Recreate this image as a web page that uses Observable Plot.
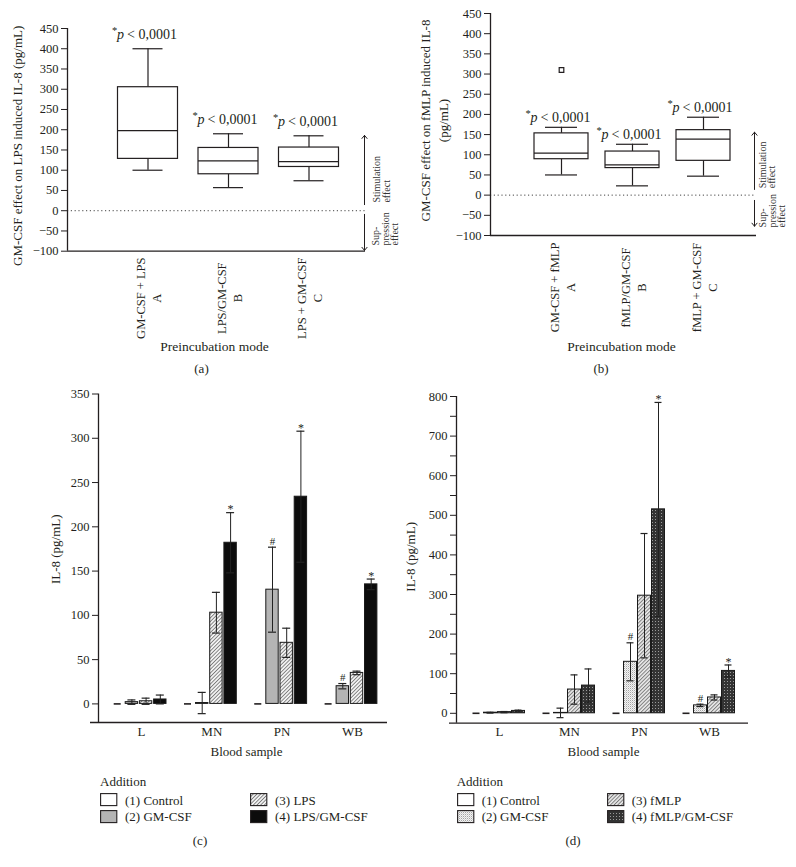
<!DOCTYPE html>
<html><head><meta charset="utf-8">
<script src="https://cdn.jsdelivr.net/npm/d3@7"></script>
<script src="https://cdn.jsdelivr.net/npm/@observablehq/plot@0.6"></script>
<style>
body{margin:0;background:#fff;}
#root{position:relative;width:796px;height:867px;overflow:hidden;background:#fff;font-family:"Liberation Serif","DejaVu Serif",serif;color:#231f20;}
.panel{position:absolute;}
.t{position:absolute;font-size:13px;line-height:13px;white-space:nowrap;}
</style></head><body>
<svg width="0" height="0" style="position:absolute">
<defs>
<pattern id="pHatchC" width="2.6" height="2.6" patternUnits="userSpaceOnUse" patternTransform="rotate(45)">
<rect width="2.6" height="2.6" fill="#f4f4f4"/><rect width="0.9" height="2.6" fill="#7a7a7a"/></pattern>
<pattern id="pDotsD" width="2" height="2" patternUnits="userSpaceOnUse">
<rect width="2" height="2" fill="#f3f3f3"/><rect width="1" height="1" fill="#a4a4a4"/><rect x="1" y="1" width="1" height="1" fill="#d4d4d4"/></pattern>
<pattern id="pHatchD" width="2.6" height="2.6" patternUnits="userSpaceOnUse" patternTransform="rotate(45)">
<rect width="2.6" height="2.6" fill="#ececec"/><rect width="1" height="2.6" fill="#7c7c7c"/></pattern>
<pattern id="pCrossD" width="3" height="3" patternUnits="userSpaceOnUse">
<rect width="3" height="3" fill="#333"/><rect width="1" height="1" fill="#9a9a9a"/></pattern>
</defs></svg>
<div id="root"></div>
<script>
const FONT = '"Liberation Serif","DejaVu Serif",serif';
const INK = "#231f20";

// ---------- Panel (a): box plots, LPS ----------
const catsA = ["GM-CSF + LPS\nA", "LPS/GM-CSF\nB", "LPS + GM-CSF\nC"];
const minA = [100, 57, 74];
const q1A  = [128, 90, 108];
const medA = [198, 123, 121];
const q3A  = [305, 155, 156];
const maxA = [400, 190, 185];
const outA = [];

// ---------- Panel (b): box plots, fMLP ----------
const catsB = ["GM-CSF + fMLP\nA", "fMLP/GM-CSF\nB", "fMLP + GM-CSF\nC"];
const minB = [50, 23, 47];
const q1B  = [89, 67, 85];
const medB = [104, 75, 139];
const q3B  = [153, 108, 161];
const maxB = [168, 126, 193];
const outB = [{box: 0, value: 310}];

const boxTicks = [-100, -50, 0, 50, 100, 150, 200, 250, 300, 350, 400, 450];
const pText = "< 0,0001";

// ---------- Panel (c): bars, LPS ----------
const groups = ["L", "MN", "PN", "WB"];
const seriesC = ["(1) Control", "(2) GM-CSF", "(3) LPS", "(4) LPS/GM-CSF"];
const cControl = [0, 0, 0, 0];
const cGM     = [2, 1, 129, 20];
const cGMsd   = [2.5, 12, 48, 3];
const cLPS    = [3, 103, 69, 35];
const cLPSsd  = [3.5, 23, 16.5, 2];
const cLPSGM  = [5, 182, 234, 135];
const cLPSGMsd = [5, 34, 74, 6];
const cMarks = [{g: 1, s: 3, sym: "*"}, {g: 2, s: 1, sym: "#"}, {g: 2, s: 3, sym: "*"}, {g: 3, s: 1, sym: "#"}, {g: 3, s: 3, sym: "*"}];
const cTicks = [0, 50, 100, 150, 200, 250, 300, 350];

// ---------- Panel (d): bars, fMLP ----------
const seriesD = ["(1) Control", "(2) GM-CSF", "(3) fMLP", "(4) fMLP/GM-CSF"];
const dControl = [0, 0, 0, 0];
const dGM      = [1.5, 1, 130, 20];
const dGMsd    = [1, 12, 48, 3];
const dFMLP    = [3, 60, 297, 40];
const dFMLPsd  = [1.5, 37, 157, 6.5];
const dFMLPGM  = [6, 70, 515, 107];
const dFMLPGMsd = [2, 42, 270, 15];
const dMarks = [{g: 2, s: 1, sym: "#"}, {g: 2, s: 3, sym: "*"}, {g: 3, s: 1, sym: "#"}, {g: 3, s: 3, sym: "*"}];
const dTicks = [0, 100, 200, 300, 400, 500, 600, 700, 800];
const dMinor = [50, 150, 250, 350, 450, 550, 650, 750];

const root = document.getElementById("root");
function place(node, left, top) {
  const d = document.createElement("div");
  d.className = "panel"; d.style.left = left + "px"; d.style.top = top + "px";
  d.appendChild(node); root.appendChild(d);
}
function txt(s, left, cy, opts = {}) {
  const d = document.createElement("div");
  d.className = "t"; d.textContent = s;
  d.style.top = (cy - 6.5) + "px";
  if (opts.center) { d.style.left = (left - 100) + "px"; d.style.width = "200px"; d.style.textAlign = "center"; }
  else d.style.left = left + "px";
  root.appendChild(d);
}

function boxPanel(c) {
  const rows = c.cats.map((cat, i) => ({pos: i + 1, cat, min: c.min[i], q1: c.q1[i], med: c.med[i], q3: c.q3[i], max: c.max[i]}));
  const hw = c.boxPx / 2 / c.unit, cw = c.capPx / 2 / c.unit;
  const xmax = (c.frameRight - c.frameLeft) / c.unit;
  const ax = (c.arrowX - c.frameLeft) / c.unit;
  const sw = 1.2;
  return Plot.plot({
    width: c.width, height: c.height,
    marginLeft: c.frameLeft, marginRight: c.width - c.frameRight,
    marginTop: c.frameTop, marginBottom: c.height - c.frameBottom,
    style: {fontFamily: FONT, fontSize: "12.5px", color: INK, background: "transparent", overflow: "visible"},
    x: {domain: [0, xmax], axis: null},
    y: {domain: [-100, 450], ticks: boxTicks, tickSize: 6, tickPadding: 3, label: null},
    marks: [
      Plot.ruleY([0], {stroke: "#444", strokeWidth: 1, strokeDasharray: "1.2,2.6"}),
      Plot.ruleX([0], {stroke: INK, strokeWidth: 1.3}),
      Plot.ruleY([-100], {stroke: INK, strokeWidth: 1.3}),
      Plot.ruleX(rows, {x: "pos", y1: "q3", y2: "max", stroke: INK, strokeWidth: sw}),
      Plot.ruleX(rows, {x: "pos", y1: "min", y2: "q1", stroke: INK, strokeWidth: sw}),
      Plot.ruleY(rows, {y: "max", x1: d => d.pos - cw, x2: d => d.pos + cw, stroke: INK, strokeWidth: sw}),
      Plot.ruleY(rows, {y: "min", x1: d => d.pos - cw, x2: d => d.pos + cw, stroke: INK, strokeWidth: sw}),
      Plot.rect(rows, {x1: d => d.pos - hw, x2: d => d.pos + hw, y1: "q1", y2: "q3", fill: "white", stroke: INK, strokeWidth: sw}),
      Plot.ruleY(rows, {y: "med", x1: d => d.pos - hw, x2: d => d.pos + hw, stroke: INK, strokeWidth: sw}),
      Plot.dot(c.out, {x: d => d.box + 1, y: "value", symbol: "square", r: 2.6, fill: "white", stroke: INK, strokeWidth: 1.2}),
      // p-value labels
      Plot.text(rows, {x: "pos", y: "max", text: () => "*", textAnchor: "start", dx: -36, dy: c.pDy - 4, fontSize: 10.5, fill: INK}),
      Plot.text(rows, {x: "pos", y: "max", text: () => "p", textAnchor: "start", dx: -31, dy: c.pDy, fontSize: 14, fontStyle: "italic", fill: INK}),
      Plot.text(rows, {x: "pos", y: "max", text: () => pText, textAnchor: "start", dx: -21, dy: c.pDy, fontSize: 14, fill: INK}),
      // category labels
      Plot.text(rows, {x: "pos", text: "cat", frameAnchor: "bottom", dy: c.catDy, rotate: -90, textAnchor: "middle", lineAnchor: "middle", lineHeight: 1.3, fontSize: 12.5, fill: INK}),
      // stimulation / suppression arrows
      Plot.arrow([0], {x1: () => ax, x2: () => ax, y1: () => c.stimFrom, y2: () => c.stimTo, headLength: 6, headAngle: 80, stroke: INK, strokeWidth: 1}),
      Plot.arrow([0], {x1: () => ax, x2: () => ax, y1: () => c.supFrom, y2: () => c.supTo, headLength: 6, headAngle: 80, stroke: INK, strokeWidth: 1}),
      Plot.text(["Stimulation\neffect"], {x: () => ax, y: () => c.stimText, text: d => d, rotate: -90, textAnchor: "start", lineAnchor: "middle", lineHeight: 0.95, dx: c.stimDx, fontSize: 10, fill: "#333"}),
      Plot.text(["Sup-\npression\neffect"], {x: () => ax, y: () => c.supText, text: d => d, rotate: -90, textAnchor: "start", lineAnchor: "middle", lineHeight: 0.95, dx: c.supDx, fontSize: 10, fill: "#333"}),
      // axis titles
      Plot.text([c.yLabel], {text: d => d, frameAnchor: "left", dx: c.yLabelDx, dy: c.yLabelDy, rotate: -90, textAnchor: "middle", lineAnchor: "middle", lineHeight: 1.45, fontSize: 13, fill: INK}),
      Plot.text(["Preincubation mode"], {text: d => d, frameAnchor: "bottom", dx: -2, dy: c.titleDy, fontSize: 13.5, fill: INK}),
      Plot.text([c.letter], {text: d => d, frameAnchor: "bottom", dx: c.letterDx, dy: c.letterDy, fontSize: 13, fill: INK})
    ]
  });
}

function barPanel(c) {
  const u = c.unit;
  const step = c.stepPx / u, hw = c.barPx / 2 / u, cap = c.capPx / 2 / u, dash = c.dashPx / 2 / u;
  const xmin = (c.frameLeft - c.g0) / u, xmax = (c.frameRight - c.g0) / u, xAxisLeft = (c.axisLeft - c.g0) / u;
  const rows = [];
  c.series.forEach((s, j) => s.values.forEach((v, i) => rows.push({g: i, s: j, v, sd: s.sd ? s.sd[i] : 0, xc: i + (j - 1.5) * step})));
  const errRows = rows.filter(d => d.s > 0);
  const byKey = new Map(rows.map(d => [d.g + "-" + d.s, d]));
  const marks = c.marks.map(m => ({...byKey.get(m.g + "-" + m.s), sym: m.sym}));
  const tickLen = 6 / u;
  return Plot.plot({
    width: c.width, height: c.height,
    marginLeft: c.frameLeft, marginRight: c.width - c.frameRight,
    marginTop: c.frameTop, marginBottom: c.height - c.frameBottom,
    style: {fontFamily: FONT, fontSize: "12.5px", color: INK, background: "transparent", overflow: "visible"},
    x: {domain: [xmin, xmax], axis: null},
    y: {domain: c.yDomain, ticks: c.ticks, tickSize: 6, tickPadding: 3, label: null},
    marks: [
      Plot.ruleX([xmin], {stroke: INK, strokeWidth: 1.3}),
      Plot.ruleY([c.yDomain[0]], {x1: () => xAxisLeft, x2: () => xmax, stroke: INK, strokeWidth: 1.3}),
      c.minor ? Plot.ruleY(c.minor, {y: d => d, x1: () => xmin - tickLen, x2: () => xmin, stroke: INK, strokeWidth: 1}) : null,
      ...c.series.slice(1).map((s, k) => Plot.rect(rows.filter(d => d.s === k + 1), {x1: d => d.xc - hw, x2: d => d.xc + hw, y1: 0, y2: "v", fill: s.fill, stroke: "#1a1a1a", strokeWidth: 1})),
      Plot.ruleY(rows.filter(d => d.s === 0), {y: "v", x1: d => d.xc - dash, x2: d => d.xc + dash, stroke: INK, strokeWidth: 1.6}),
      Plot.ruleX(errRows, {x: "xc", y1: d => d.v - d.sd, y2: d => d.v + d.sd, stroke: "#222", strokeWidth: 1}),
      Plot.ruleY(errRows, {y: d => d.v + d.sd, x1: d => d.xc - cap, x2: d => d.xc + cap, stroke: "#222", strokeWidth: 1.2}),
      Plot.ruleY(errRows, {y: d => d.v - d.sd, x1: d => d.xc - cap, x2: d => d.xc + cap, stroke: "#222", strokeWidth: 1.2}),
      Plot.text(marks.filter(d => d.sym === "#"), {x: "xc", y: d => d.v + d.sd, text: "sym", dy: -6, fontSize: 11, fill: INK}),
      Plot.text(marks.filter(d => d.sym === "*"), {x: "xc", y: d => d.v + d.sd, text: "sym", dy: -3, fontSize: 12, fill: INK}),
      Plot.text(groups, {x: (d, i) => i, text: d => d, frameAnchor: "bottom", dx: c.groupDx, dy: c.groupDy, fontSize: 13, fill: INK}),
      Plot.text(["Blood sample"], {text: d => d, frameAnchor: "bottom", dx: c.titleDx, dy: c.titleDy, fontSize: 13, fill: INK}),
      Plot.text(["IL-8 (pg/mL)"], {text: d => d, frameAnchor: "left", dx: c.yLabelDx, dy: c.yLabelDy, rotate: -90, textAnchor: "middle", fontSize: 13, fill: INK})
    ].filter(Boolean)
  });
}

function legend(x0, swX2, txtX2, names, fills, letterX) {
  txt("Addition", x0, 781.5);
  const rowsY = [800, 816.3];
  names.forEach((n, i) => {
    const col = Math.floor(i / 2), row = i % 2;
    const sx = col === 0 ? x0 : swX2;
    const tx = col === 0 ? x0 + 25 : txtX2;
    const s = d3.create("svg").attr("width", 18).attr("height", 14);
    s.append("rect").attr("x", 0.6).attr("y", 0.6).attr("width", 16.2).attr("height", 12).attr("fill", fills[i]).attr("stroke", INK).attr("stroke-width", 1.1);
    const d = document.createElement("div");
    d.className = "panel"; d.style.left = sx + "px"; d.style.top = (rowsY[row] - 6.6) + "px";
    d.appendChild(s.node()); root.appendChild(d);
    txt(n, tx, rowsY[row]);
  });
  txt(letterX.s, letterX.x, 840, {center: true});
}

// Panel (a)
place(boxPanel({
  cats: catsA, min: minA, q1: q1A, med: medA, q3: q3A, max: maxA, out: outA,
  width: 400, height: 390, frameLeft: 67, frameRight: 365, frameTop: 28, frameBottom: 250.7,
  unit: 80.5, boxPx: 60, capPx: 30, arrowX: 364, pDy: -14, catDy: 47,
  stimFrom: 15, stimTo: 186, supFrom: -9, supTo: -98, stimText: 20, supText: -86, stimDx: 17.5, supDx: 21,
  yLabel: "GM-CSF effect on LPS induced IL-8 (pg/mL)", yLabelDx: -52, yLabelDy: 6,
  titleDy: 99.3, letter: "(a)", letterDx: -15, letterDy: 122
}), 0, 0);

// Panel (b)
place(boxPanel({
  cats: catsB, min: minB, q1: q1B, med: medB, q3: q3B, max: maxB, out: outB,
  width: 396, height: 390, frameLeft: 90, frameRight: 356, frameTop: 13, frameBottom: 235,
  unit: 71, boxPx: 54, capPx: 32, arrowX: 354, pDy: -10, catDy: 52,
  stimFrom: 14, stimTo: 156, supFrom: -13, supTo: -77, stimText: 17, supText: -80, stimDx: 13, supDx: 18,
  yLabel: "GM-CSF effect on fMLP induced IL-8\n(pg/mL)", yLabelDx: -57.5, yLabelDy: -4,
  titleDy: 115, letter: "(b)", letterDx: -22.5, letterDy: 137
}), 400, 0);

// Panel (c)
place(barPanel({
  series: [
    {name: seriesC[0], values: cControl, sd: null, fill: "white"},
    {name: seriesC[1], values: cGM, sd: cGMsd, fill: "#b4b4b4"},
    {name: seriesC[2], values: cLPS, sd: cLPSsd, fill: "url(#pHatchC)"},
    {name: seriesC[3], values: cLPSGM, sd: cLPSGMsd, fill: "#0c0c0c"}
  ],
  marks: cMarks, ticks: cTicks, minor: null, yDomain: [-21, 350],
  width: 400, height: 380, frameLeft: 98, frameRight: 387, frameTop: 3.5, frameBottom: 332, axisLeft: 90,
  g0: 138.5, unit: 70.3, stepPx: 14.2, barPx: 12.4, capPx: 8, dashPx: 7,
  groupDx: 2.5, groupDy: 13, titleDx: 3.5, titleDy: 33, yLabelDx: -43, yLabelDy: -9
}), 0, 390);

// Panel (d)
place(barPanel({
  series: [
    {name: seriesD[0], values: dControl, sd: null, fill: "white"},
    {name: seriesD[1], values: dGM, sd: dGMsd, fill: "url(#pDotsD)"},
    {name: seriesD[2], values: dFMLP, sd: dFMLPsd, fill: "url(#pHatchD)"},
    {name: seriesD[3], values: dFMLPGM, sd: dFMLPGMsd, fill: "url(#pCrossD)"}
  ],
  marks: dMarks, ticks: dTicks, minor: dMinor, yDomain: [-25, 800],
  width: 396, height: 380, frameLeft: 56, frameRight: 348, frameTop: 6, frameBottom: 332.7, axisLeft: 49,
  g0: 97, unit: 70, stepPx: 14, barPx: 13, capPx: 7, dashPx: 7,
  groupDx: 2, groupDy: 12.3, titleDx: 1, titleDy: 32.3, yLabelDx: -46, yLabelDy: -3
}), 400, 390);

legend(100, 250, 275, seriesC, ["white", "#b4b4b4", "url(#pHatchC)", "#0c0c0c"], {s: "(c)", x: 200});
legend(456.7, 607.3, 631.7, seriesD, ["white", "url(#pDotsD)", "url(#pHatchD)", "url(#pCrossD)"], {s: "(d)", x: 573});
</script></body></html>
